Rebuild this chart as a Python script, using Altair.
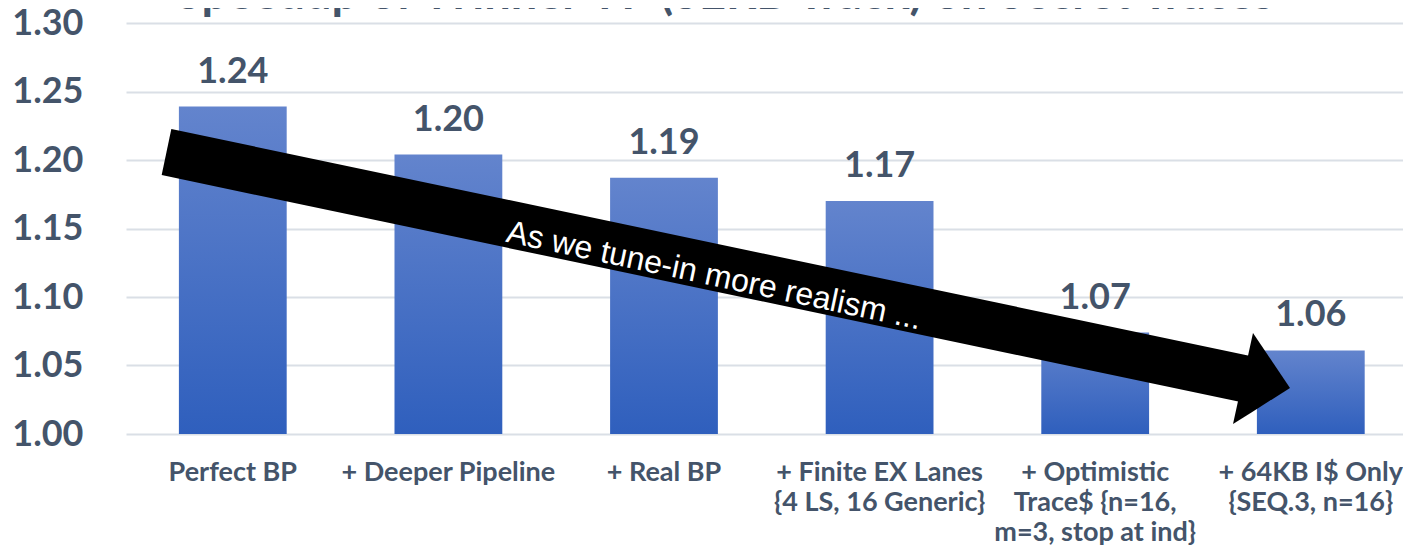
import altair as alt
import pandas as pd

# ---- data ----
categories = [
    "Perfect BP",
    "+ Deeper Pipeline",
    "+ Real BP",
    "+ Finite EX Lanes|{4 LS, 16 Generic}",
    "+ Optimistic|Trace$ {n=16,|m=3, stop at ind}",
    "+ 64KB I$ Only|{SEQ.3, n=16}",
]
speedups = [1.239, 1.204, 1.187, 1.170, 1.074, 1.061]
y_ticks = [1.00, 1.05, 1.10, 1.15, 1.20, 1.25, 1.30]
title_text = "Speedup of Winner VP (SERB Track) on Secret Traces"
arrow_text = "As we tune-in more realism ..."

# annotation arrow, in (0..6 across the plot, speedup) units
shaft_x = [0.1903, 5.2712]
shaft_y = [1.2058, 1.0398]
head_x = [5.2013, 5.2952, 5.4691]
head_y_top = [1.0073, 1.0737, 1.0336]
head_y_bottom = [1.0073, 1.0165, 1.0336]
note_x = [2.7533]
note_y = [1.1084]

TEXT_COLOR = "#44546A"
FONT = "Lato"

bars_df = pd.DataFrame({"category": categories, "speedup": speedups})
shaft_df = pd.DataFrame({"x": shaft_x, "speedup": shaft_y, "order": [0, 1]})
head_df = pd.DataFrame({"x": head_x, "speedup": head_y_top, "speedup2": head_y_bottom})
note_df = pd.DataFrame({"x": note_x, "speedup": note_y, "label": [arrow_text]})
title_df = pd.DataFrame({"t": [title_text]})

y_scale = alt.Scale(domain=[1.0, 1.3], nice=False, zero=False)
xq_scale = alt.Scale(domain=[0, 6], nice=False, zero=False)
band_scale = alt.Scale(paddingInner=0.5, paddingOuter=0.2115, align=0.58)

x_enc = alt.X(
    "category:N",
    sort=categories,
    title=None,
    scale=band_scale,
    axis=alt.Axis(
        labelAngle=0,
        labelFont=FONT,
        labelFontSize=27,
        labelFontWeight="bold",
        labelColor=TEXT_COLOR,
        labelPadding=25,
        labelLineHeight=30,
        labelLimit=0,
        labelOverlap=False,
        labelBound=False,
        ticks=False,
        domain=False,
        grid=False,
        labelExpr="split(datum.label, '|')",
    ),
)

y_enc = alt.Y(
    "speedup:Q",
    title=None,
    scale=y_scale,
    axis=alt.Axis(
        values=y_ticks,
        format=".2f",
        labelFont=FONT,
        labelFontSize=36,
        labelFontWeight="bold",
        labelColor=TEXT_COLOR,
        labelPadding=43,
        ticks=False,
        domain=False,
        grid=True,
        gridColor="#DADFE6",
        gridWidth=2,
    ),
)

gradient = alt.Gradient(
    gradient="linear",
    stops=[
        alt.GradientStop(color="#6384CD", offset=0),
        alt.GradientStop(color="#2F5FBD", offset=1),
    ],
    x1=1, x2=1, y1=0, y2=1,
)

bars = alt.Chart(bars_df).mark_bar(color=gradient).encode(
    x=x_enc, y=y_enc, y2=alt.datum(1.0)
)

values = alt.Chart(bars_df).mark_text(
    baseline="alphabetic", dy=-24, font=FONT, fontSize=36, fontWeight="bold", color=TEXT_COLOR
).encode(
    x=alt.X("category:N", sort=categories, scale=band_scale),
    y=alt.Y("speedup:Q", title=None, scale=y_scale),
    text=alt.Text("speedup:Q", format=".2f"),
)

title = alt.Chart(title_df).mark_text(
    baseline="alphabetic", align="center", font=FONT, fontSize=47, fontWeight="bold", color=TEXT_COLOR
).encode(
    x=alt.value(599),
    y=alt.value(-14.5),
    text="t:N",
)

shaft = alt.Chart(shaft_df).mark_line(color="black", strokeWidth=47, strokeCap="butt").encode(
    x=alt.X("x:Q", scale=xq_scale, axis=None),
    y=alt.Y("speedup:Q", title=None, scale=y_scale),
    order="order:Q",
)

head = alt.Chart(head_df).mark_area(color="black", opacity=1).encode(
    x=alt.X("x:Q", scale=xq_scale, axis=None),
    y=alt.Y("speedup:Q", title=None, scale=y_scale),
    y2="speedup2:Q",
)

note = alt.Chart(note_df).mark_text(
    angle=12, font="Liberation Sans", fontSize=32, color="white", align="center", baseline="alphabetic"
).encode(
    x=alt.X("x:Q", scale=xq_scale, axis=None),
    y=alt.Y("speedup:Q", title=None, scale=y_scale),
    text="label:N",
)

band_layer = alt.layer(bars, values, title)
arrow_layer = alt.layer(shaft, head, note)

chart = (
    alt.layer(band_layer, arrow_layer)
    .resolve_scale(x="independent")
    .properties(
        width=1277,
        height=411,
        autosize=alt.AutoSizeParams(type="none"),
        padding={"left": 118, "top": 15, "right": 0, "bottom": 112},
    )
    .configure_view(stroke=None)
)

chart.save("out.html", embed_options={"renderer": "svg", "actions": False})
